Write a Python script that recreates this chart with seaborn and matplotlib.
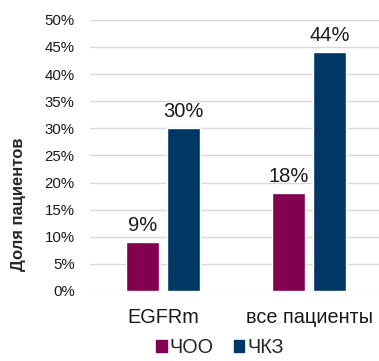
import pandas as pd
import matplotlib.pyplot as plt
import seaborn as sns

# data (percent of patients)
groups = ["EGFRm", "все пациенты"]
series = ["ЧОО", "ЧКЗ"]
orr = [9, 18]
dcr = [30, 44]
colors = {"ЧОО": "#820050", "ЧКЗ": "#003865"}

df = pd.DataFrame({
    "group": groups * 2,
    "metric": [series[0]] * len(groups) + [series[1]] * len(groups),
    "value": orr + dcr,
})

sns.set_theme(style="white")
plt.rcParams["font.family"] = ["Liberation Sans", "DejaVu Sans"]

fig = plt.figure(figsize=(3.79, 3.61), dpi=100)
ax = fig.add_axes([0.2375, 0.194, 0.7625, 0.751])

sns.barplot(
    data=df, x="group", y="value", hue="metric",
    order=groups, hue_order=series, palette=colors,
    width=0.562, gap=0.195, saturation=1, ax=ax, legend=False,
)

for cont in ax.containers:
    ax.bar_label(cont, fmt="%d%%", padding=5, fontsize=14.5, color="#1a1a1a")

ax.set_ylim(0, 50)
ax.set_xlim(-0.5, 1.479)
ax.set_yticks(range(0, 51, 5))
ax.set_yticklabels([f"{v}%" for v in range(0, 51, 5)])
ax.tick_params(axis="y", labelsize=10.8, pad=11, length=0, colors="#1a1a1a")
ax.tick_params(axis="x", labelsize=14.3, pad=12, length=0, colors="#1a1a1a")
ax.yaxis.grid(True, color="#d9d9d9", linewidth=1)
ax.set_axisbelow(True)
for s in ax.spines.values():
    s.set_visible(False)
ax.set_xlabel("")
ax.set_ylabel("Доля пациентов", fontsize=12, fontweight="bold")
ax.yaxis.set_label_coords(-0.22, 0.32)

handles = [plt.Rectangle((0, 0), 1, 1, color=colors[s]) for s in series]
fig.legend(
    handles, series, loc="lower center", bbox_to_anchor=(0.58, -0.038),
    ncol=2, frameon=False, fontsize=14.3, handlelength=0.55, handleheight=0.55,
    handletextpad=0.15, columnspacing=1.0,
)

fig.savefig("out.png", dpi=100)
